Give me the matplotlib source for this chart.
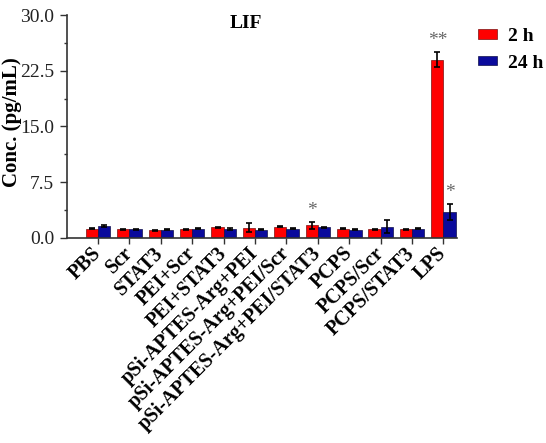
import numpy as np
import matplotlib
matplotlib.use("Agg")
import matplotlib.pyplot as plt
import matplotlib.transforms as mtransforms
from matplotlib.ticker import MultipleLocator, FormatStrFormatter

groups = ["PBS", "Scr", "STAT3", "PEI+Scr", "PEI+STAT3", "pSi-APTES-Arg+PEI",
          "pSi-APTES-Arg+PEI/Scr", "pSi-APTES-Arg+PEI/STAT3", "PCPS", "PCPS/Scr",
          "PCPS/STAT3", "LPS"]
lif_2h = [1.26, 1.13, 1.04, 1.17, 1.40, 1.35, 1.53, 1.70, 1.26, 1.13, 1.17, 24.0]
err_2h = [0.12, 0.08, 0.08, 0.08, 0.12, 0.60, 0.06, 0.45, 0.10, 0.06, 0.08, 1.0]
lif_24h = [1.58, 1.13, 1.10, 1.26, 1.20, 1.08, 1.26, 1.40, 1.08, 1.50, 1.26, 3.5]
err_24h = [0.15, 0.08, 0.08, 0.10, 0.08, 0.06, 0.06, 0.12, 0.06, 0.85, 0.10, 1.05]
# significance marks: (group index, series, text)
stars = [(7, 0, "*"), (11, 0, "**"), (11, 1, "*")]

plt.rcParams["font.family"] = "Liberation Serif"

fig = plt.figure(figsize=(5.46, 4.43), dpi=100)
ax = fig.add_axes([0.122, 0.463, 0.715, 0.503])

x = np.arange(len(groups))
w = 0.39
red, blue = "#ff0000", "#0a0a9c"
ekw = dict(elinewidth=1.2, capsize=2.5, capthick=1.2, ecolor="black")
ax.bar(x - w / 2, lif_2h, w, color=red, edgecolor="#7a1010", linewidth=0.5,
       yerr=err_2h, error_kw=ekw, label="2 h")
ax.bar(x + w / 2, lif_24h, w, color=blue, edgecolor="#10104a", linewidth=0.5,
       yerr=err_24h, error_kw=ekw, label="24 h")

for i, s, txt in stars:
    vals, errs = (lif_2h, err_2h) if s == 0 else (lif_24h, err_24h)
    xpos = x[i] - w / 2 if s == 0 else x[i] + w / 2
    ax.text(xpos, vals[i] + errs[i] + 0.4, txt, ha="center", va="bottom",
            fontsize=14, color="#666666")

ax.set_xlim(-1.0, 11.43)
ax.set_ylim(0, 30)
ax.yaxis.set_major_locator(MultipleLocator(7.5))
ax.yaxis.set_minor_locator(MultipleLocator(3.75))
ax.yaxis.set_major_formatter(FormatStrFormatter("%.1f"))
ax.set_xticks(x)
ax.set_xticklabels(groups, rotation=45, ha="right", va="center", rotation_mode="anchor",
                   fontsize=14.5, fontweight="bold")
# nudge the rotated group names a little to the right of their ticks
shift = mtransforms.ScaledTranslation(4 / 100, 0, fig.dpi_scale_trans)
for lab in ax.get_xticklabels():
    lab.set_transform(lab.get_transform() + shift)
ax.tick_params(axis="y", labelsize=14, direction="out", length=5, width=1, colors="#333333",
               labelcolor="#222222", pad=4)
ax.tick_params(axis="y", which="minor", length=2.5, width=1, colors="#333333")
ax.tick_params(axis="x", direction="out", length=4, width=1, colors="#333333",
               labelcolor="black", pad=5)

for side in ("top", "right"):
    ax.spines[side].set_visible(False)
for side in ("left", "bottom"):
    ax.spines[side].set_color("#333333")
    ax.spines[side].set_linewidth(1.2)

ax.set_ylabel("Conc. (pg/mL)", fontsize=15, fontweight="bold")
ax.yaxis.set_label_coords(-0.113, 0.52)
ax.text(0.46, 0.96, "LIF", transform=ax.transAxes, ha="center", va="center",
        fontsize=14, fontweight="bold")

ax.legend(loc="upper left", bbox_to_anchor=(470 / 546, 1 - 20 / 443),
          bbox_transform=fig.transFigure, borderaxespad=0, borderpad=0.4,
          frameon=False, prop=dict(size=14, weight="bold"), handlelength=1.0,
          handleheight=0.4, handletextpad=0.55, labelspacing=0.5)

fig.savefig("out.png", dpi=100)
